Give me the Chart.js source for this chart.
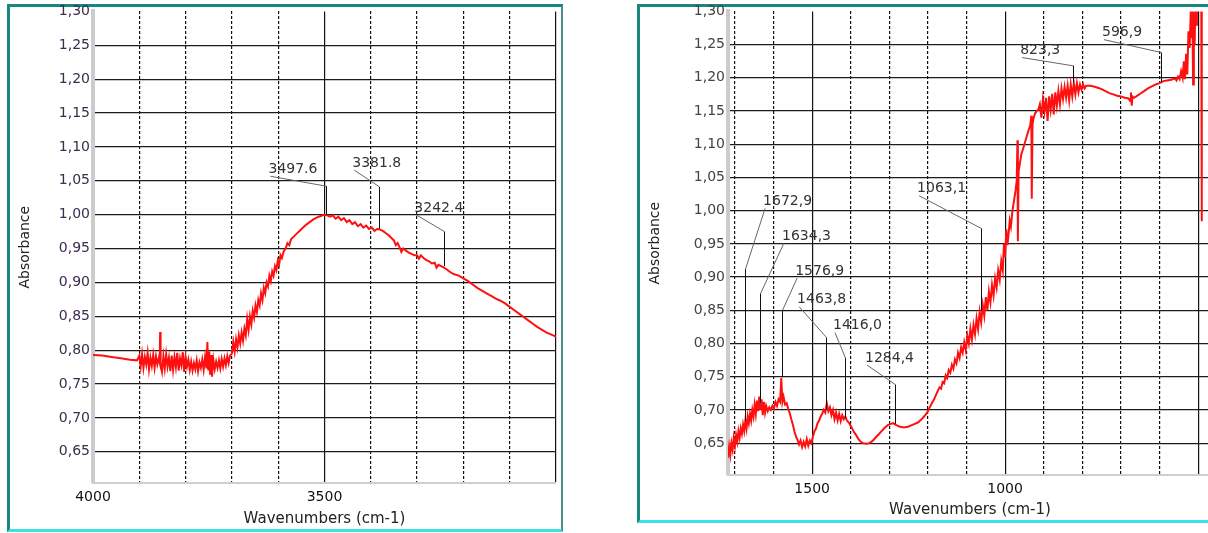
<!DOCTYPE html>
<html>
<head>
<meta charset="utf-8">
<script src="https://cdn.jsdelivr.net/npm/chart.js@4.4.1/dist/chart.umd.min.js"></script>
<style>
  html, body { margin: 0; padding: 0; background: #fff; width: 1208px; height: 533px; overflow: hidden; position: relative; }
  .frame { position: absolute; box-sizing: border-box; }
  #frameL { left: 7px; top: 4px; width: 556px; height: 528px; border-top: 3px solid #17877f; border-left: 3px solid #17877f; border-right: 2px solid #4d8c88; border-bottom: 3px solid #3fe0e8; }
  #frameR { left: 637px; top: 4px; width: 600px; height: 519px; border-top: 3px solid #17877f; border-left: 3px solid #17877f; border-bottom: 3px solid #3fe0e8; }
  canvas { position: absolute; top: 0; }
  #left { left: 10px; }
  #right { left: 641px; }
</style>
</head>
<body>
<div class="frame" id="frameL"></div>
<div class="frame" id="frameR"></div>
<canvas id="left" width="552" height="532"></canvas>
<canvas id="right" width="600" height="523"></canvas>
<script>
Chart.defaults.font.family = "'DejaVu Sans', sans-serif";
Chart.defaults.animation = false;

// ---- left spectrum (4000 - 3000 cm-1) ----
const leftWn = [4000, 3980, 3960, 3940, 3920, 3905,
  3900, 3897, 3894, 3891, 3888, 3885, 3882, 3879, 3876, 3873, 3870, 3867, 3864, 3861, 3858, 3856, 3855, 3854, 3851, 3848,
  3845, 3842, 3839, 3836, 3833, 3830, 3827, 3824, 3821, 3818, 3815, 3812, 3809, 3806, 3803, 3800, 3797, 3794, 3791, 3788,
  3785, 3782, 3779, 3776, 3773, 3770, 3767, 3764, 3761, 3758, 3755, 3753, 3751, 3749, 3747, 3745, 3743, 3740, 3737, 3734,
  3731, 3728, 3725, 3722, 3719, 3716, 3713, 3710, 3707, 3704, 3700,
  3697, 3694, 3691, 3688, 3685, 3682, 3679, 3676, 3673, 3670, 3667, 3664, 3661, 3658, 3655, 3652, 3649, 3646, 3643, 3640,
  3637, 3634, 3631, 3628, 3625, 3622, 3619, 3616, 3613, 3610, 3607, 3604, 3601, 3598, 3595, 3592, 3588, 3584, 3580, 3576,
  3572, 3566, 3560, 3554, 3548, 3540, 3532, 3524, 3516, 3508,
  3500, 3494, 3488, 3482, 3476, 3470, 3464, 3458, 3452, 3446, 3440, 3434, 3428, 3422, 3416, 3410, 3404, 3398, 3392, 3386,
  3380, 3374, 3368, 3362, 3356, 3350, 3346, 3342, 3338, 3334, 3330, 3324, 3318, 3312, 3306, 3300, 3296, 3292, 3286, 3280,
  3274, 3268, 3262, 3258, 3254, 3248, 3242, 3236, 3228, 3220, 3210, 3200, 3190, 3180, 3170, 3160, 3150, 3140, 3130, 3120,
  3110, 3100, 3090, 3080, 3070, 3060, 3050, 3040, 3030, 3020, 3010, 3000];
const leftAbs = [0.793, 0.792, 0.790, 0.788, 0.786, 0.785,
  0.792, 0.776, 0.794, 0.774, 0.790, 0.779, 0.796, 0.772, 0.789, 0.777, 0.793, 0.774, 0.791, 0.779, 0.788, 0.782, 0.827, 0.778, 0.768, 0.791,
  0.773, 0.794, 0.776, 0.789, 0.769, 0.792, 0.771, 0.790, 0.775, 0.796, 0.770, 0.788, 0.778, 0.797, 0.768, 0.790, 0.776, 0.786, 0.771, 0.783,
  0.770, 0.781, 0.772, 0.785, 0.769, 0.782, 0.774, 0.786, 0.771, 0.790, 0.773, 0.812, 0.770, 0.798, 0.764, 0.793, 0.761, 0.786, 0.772, 0.783,
  0.774, 0.785, 0.773, 0.787, 0.776, 0.788, 0.778, 0.791, 0.781, 0.792, 0.795,
  0.812, 0.798, 0.816, 0.804, 0.822, 0.810, 0.826, 0.814, 0.832, 0.822, 0.846, 0.830, 0.850, 0.838, 0.858, 0.848, 0.866, 0.856, 0.874, 0.866,
  0.884, 0.874, 0.892, 0.884, 0.900, 0.894, 0.910, 0.902, 0.916, 0.910, 0.924, 0.918, 0.932, 0.926, 0.940, 0.936, 0.946, 0.950, 0.958, 0.955,
  0.964, 0.968, 0.972, 0.976, 0.980, 0.985, 0.989, 0.993, 0.996, 0.998,
  1.000, 0.999, 0.997, 0.999, 0.994, 0.997, 0.992, 0.995, 0.989, 0.992, 0.986, 0.989, 0.983, 0.986, 0.981, 0.984, 0.979, 0.981, 0.976, 0.979,
  0.978, 0.976, 0.973, 0.970, 0.966, 0.962, 0.955, 0.958, 0.952, 0.945, 0.950, 0.947, 0.944, 0.942, 0.940, 0.940, 0.935, 0.940, 0.936, 0.933,
  0.931, 0.928, 0.929, 0.922, 0.926, 0.924, 0.922, 0.919, 0.915, 0.912, 0.910, 0.906, 0.902, 0.897, 0.892, 0.888, 0.884, 0.880, 0.876, 0.873,
  0.869, 0.864, 0.859, 0.854, 0.849, 0.844, 0.839, 0.834, 0.830, 0.826, 0.823, 0.820];

// ---- right spectrum (1718 - 464 cm-1) ----
const rightWn = [1718, 1715, 1712, 1709, 1706, 1703, 1700, 1697, 1694, 1691, 1688, 1685, 1682, 1679, 1676, 1673, 1670, 1667, 1664, 1661,
  1658, 1655, 1652, 1649, 1646, 1643, 1640, 1637, 1634, 1631, 1628, 1625, 1622, 1619, 1615, 1611, 1607, 1603, 1599, 1595,
  1591, 1587, 1583, 1580, 1577, 1574, 1570, 1566, 1562, 1558, 1554, 1550, 1546, 1542, 1538, 1534, 1530, 1526, 1522, 1518,
  1514, 1510, 1506, 1502, 1498, 1494, 1490, 1486, 1482, 1478, 1474, 1470, 1466, 1462, 1458, 1454, 1450, 1446, 1442, 1438,
  1434, 1430, 1426, 1422, 1418, 1414, 1410, 1404, 1398, 1392, 1386, 1380, 1374, 1368, 1360, 1352, 1344, 1336, 1328, 1320,
  1312, 1304, 1296, 1290, 1282, 1274, 1266, 1258, 1250, 1242, 1234, 1226, 1218, 1210, 1202, 1196, 1190, 1184, 1178,
  1175, 1170, 1166, 1162, 1158, 1154, 1150, 1146, 1142, 1138, 1134, 1130, 1126, 1122, 1118, 1114, 1110, 1106, 1102, 1098,
  1094, 1090, 1086, 1082, 1078, 1074, 1070, 1066, 1062, 1058, 1054, 1050, 1046, 1042, 1038, 1034, 1030, 1026, 1022, 1018,
  1014, 1010, 1006, 1003, 1000, 997, 994, 991, 988, 985, 981, 977, 973, 970, 968, 967, 965, 962, 958, 954,
  950, 946, 943, 940, 935, 932, 931, 929, 926, 922, 918, 914,
  910, 906, 902, 898, 894, 890, 886, 882, 878, 874, 870, 866, 862, 858, 854, 850, 846, 842, 838, 834,
  830, 826, 822, 818, 814, 810, 806, 802, 798, 794, 790, 780, 770, 760, 750, 740, 730, 720, 710, 700,
  690, 680, 676, 674, 672, 670, 666, 660, 650, 640, 630, 620, 610, 600, 590, 580, 570, 560, 556, 552,
  548, 544, 540, 537, 534, 531, 528, 525, 522, 519, 517, 515, 513, 511, 509, 507, 505, 503, 500, 496,
  492, 491, 490, 488];
const rightAbs = [0.628, 0.645, 0.632, 0.650, 0.640, 0.658, 0.646, 0.662, 0.652, 0.668, 0.658, 0.672, 0.664, 0.678, 0.668, 0.684, 0.672, 0.690, 0.680, 0.694,
  0.684, 0.700, 0.690, 0.708, 0.694, 0.714, 0.698, 0.720, 0.700, 0.716, 0.692, 0.712, 0.696, 0.706, 0.698, 0.704, 0.700, 0.706, 0.702, 0.712,
  0.706, 0.716, 0.712, 0.748, 0.712, 0.720, 0.708, 0.710, 0.702, 0.695, 0.686, 0.678, 0.668, 0.660, 0.655, 0.648, 0.654, 0.644, 0.652, 0.645,
  0.656, 0.646, 0.654, 0.650, 0.660, 0.668, 0.672, 0.680, 0.684, 0.690, 0.694, 0.700, 0.696, 0.710, 0.698, 0.704, 0.692, 0.700, 0.686, 0.696,
  0.684, 0.694, 0.683, 0.692, 0.686, 0.690, 0.684, 0.680, 0.674, 0.667, 0.662, 0.656, 0.652, 0.650, 0.649, 0.650, 0.653, 0.658, 0.663, 0.668,
  0.673, 0.677, 0.679, 0.680, 0.677, 0.675, 0.674, 0.674, 0.675, 0.677, 0.679, 0.681, 0.685, 0.690, 0.696, 0.703, 0.710, 0.716, 0.724,
  0.728, 0.734, 0.732, 0.742, 0.740, 0.752, 0.748, 0.760, 0.756, 0.768, 0.762, 0.776, 0.770, 0.786, 0.778, 0.794, 0.786, 0.802, 0.790, 0.812,
  0.800, 0.822, 0.806, 0.828, 0.814, 0.838, 0.822, 0.848, 0.832, 0.858, 0.842, 0.870, 0.850, 0.878, 0.862, 0.888, 0.872, 0.898, 0.884, 0.910,
  0.896, 0.924, 0.910, 0.950, 0.930, 0.972, 0.948, 0.965, 0.985, 0.976, 1.000, 1.015, 1.030, 1.045, 1.106, 0.954, 1.060, 1.070, 1.085, 1.092,
  1.100, 1.108, 1.114, 1.120, 1.128, 1.143, 1.018, 1.130, 1.140, 1.147, 1.150, 1.152,
  1.160, 1.140, 1.168, 1.150, 1.170, 1.135, 1.172, 1.152, 1.176, 1.145, 1.178, 1.158, 1.180, 1.160, 1.184, 1.168, 1.186, 1.170, 1.188, 1.166,
  1.190, 1.172, 1.192, 1.175, 1.192, 1.178, 1.190, 1.182, 1.190, 1.184, 1.188, 1.188, 1.187, 1.185, 1.183, 1.180, 1.177, 1.175, 1.173, 1.172,
  1.170, 1.169, 1.165, 1.178, 1.158, 1.172, 1.170, 1.172, 1.176, 1.180, 1.184, 1.187, 1.190, 1.192, 1.195, 1.196, 1.197, 1.199, 1.196, 1.202,
  1.198, 1.210, 1.200, 1.225, 1.198, 1.236, 1.205, 1.270, 1.245, 1.300, 1.260, 1.310, 1.190, 1.300, 1.250, 1.310, 1.280, 1.300, 1.310, 1.330,
  1.350, 0.984, 1.350, 1.350];

// ---- axis ticks ----
const yTicks = [0.65, 0.70, 0.75, 0.80, 0.85, 0.90, 0.95, 1.00, 1.05, 1.10, 1.15, 1.20, 1.25, 1.30];
const leftMajorTicks = [4000, 3500, 3000];
const leftMinorTicks = [3900, 3800, 3700, 3600, 3400, 3300, 3200, 3100];
const leftTickLabels = [4000, 3500];
const rightMajorTicks = [1500, 1000, 500];
const rightMinorTicks = [1700, 1600, 1400, 1300, 1200, 1100, 900, 800, 700, 600];
const rightTickLabels = [1500, 1000];

// ---- peak labels ----
const leftPeakWn = [3497.6, 3381.8, 3242.4];
const leftPeakText = ['3497.6', '3381.8', '3242.4'];
const leftLabelWn = [3621, 3440, 3306];
const leftLabelAbs = [1.067, 1.076, 1.010];
const leftBendAbs = [1.042, 1.041, 0.975];
const leftEndAbs = [1.000, 0.979, 0.924];

const rightPeakWn = [1672.9, 1634.3, 1576.9, 1463.8, 1416.0, 1284.4, 1063.1, 823.3, 596.9];
const rightPeakText = ['1672,9', '1634,3', '1576,9', '1463,8', '1416,0', '1284,4', '1063,1', '823,3', '596,9'];
const rightLabelWn = [1627, 1578, 1544, 1539, 1446, 1363, 1228, 961, 749];
const rightLabelAbs = [1.014, 0.962, 0.909, 0.866, 0.827, 0.778, 1.033, 1.241, 1.268];
const rightBendAbs = [0.912, 0.875, 0.850, 0.809, 0.778, 0.738, 0.973, 1.218, 1.238];
const rightEndAbs = [0.683, 0.711, 0.749, 0.700, 0.688, 0.679, 0.849, 1.193, 1.193];

// draws the peak labels with their leader lines
const peakLabels = {
  id: 'peakLabels',
  afterDatasetsDraw(chart, args, opts) {
    const {ctx, scales: {x, y}} = chart;
    ctx.save();
    ctx.font = "14px 'DejaVu Sans'";
    ctx.textBaseline = 'middle';
    ctx.lineWidth = 1;
    opts.wn.forEach((wn, i) => {
      const px = Math.round(x.getPixelForValue(wn)) + 0.5;
      const lx = x.getPixelForValue(opts.labelWn[i]);
      const ly = y.getPixelForValue(opts.labelAbs[i]);
      const yb = y.getPixelForValue(opts.bendAbs[i]);
      const ye = y.getPixelForValue(opts.endAbs[i]);
      ctx.strokeStyle = '#666';
      ctx.beginPath();
      ctx.moveTo(lx + 2, ly + 7);
      ctx.lineTo(px, yb);
      ctx.stroke();
      ctx.strokeStyle = '#111';
      ctx.beginPath();
      ctx.moveTo(px, yb);
      ctx.lineTo(px, ye);
      ctx.stroke();
      ctx.fillStyle = '#333';
      ctx.fillText(opts.text[i], lx, ly);
    });
    ctx.restore();
  }
};

function makeSpectrum(id, p) {
  const points = p.wn.map((w, i) => ({x: w, y: p.abs[i]}));
  return new Chart(document.getElementById(id), {
    type: 'line',
    data: {
      datasets: [{
        data: points,
        borderColor: '#ff1010',
        borderWidth: 2,
        pointRadius: 0,
        tension: 0
      }]
    },
    plugins: [peakLabels],
    options: {
      responsive: false,
      layout: {padding: {left: 0, right: p.padRight, top: 8, bottom: 0}},
      plugins: {
        legend: {display: false},
        tooltip: {enabled: false},
        peakLabels: p.peaks
      },
      scales: {
        x: {
          type: 'linear',
          position: 'bottom',
          min: p.xMin, max: p.xMax,
          reverse: true,
          afterBuildTicks: s => { s.ticks = p.major.map(v => ({value: v})); },
          afterFit: s => { s.height = p.xHeight; },
          ticks: {
            padding: 6,
            color: '#111',
            font: {size: 14},
            maxRotation: 0,
            autoSkip: false,
            callback: v => p.tickLabels.includes(v) ? String(v) : ''
          },
          grid: {color: '#111', lineWidth: 1.2, drawTicks: false},
          border: {color: '#cfcfcf', width: 2},
          title: {display: true, text: 'Wavenumbers (cm-1)', color: '#222', font: {size: 15}, padding: {top: 0, bottom: 4}}
        },
        xMinor: {
          type: 'linear',
          axis: 'x',
          position: 'top',
          min: p.xMin, max: p.xMax,
          reverse: true,
          afterBuildTicks: s => { s.ticks = p.minor.map(v => ({value: v})); },
          afterFit: s => { s.height = 0; },
          ticks: {display: false},
          grid: {color: '#111', lineWidth: 1.2, drawTicks: false},
          border: {display: false, dash: [3, 2]}
        },
        y: {
          type: 'linear',
          min: p.yMin, max: 1.30,
          afterBuildTicks: s => { s.ticks = yTicks.map(v => ({value: v})); },
          afterFit: s => { s.width = p.yWidth; },
          ticks: {
            padding: 3,
            color: p.yTickColor,
            font: {size: 14},
            callback: v => v.toFixed(2).replace('.', ',')
          },
          grid: {color: c => c.tick && c.tick.value >= 1.3 ? 'rgba(0,0,0,0)' : '#1c1c1c', lineWidth: 1.2, drawTicks: false},
          border: {color: '#cccccc', width: 4},
          title: {display: true, text: 'Absorbance', color: '#222', font: {size: 14}, padding: {top: p.yTitlePad, bottom: 0}}
        }
      }
    }
  });
}

makeSpectrum('left', {
  wn: leftWn, abs: leftAbs,
  xMin: 3000, xMax: 4000, yMin: 0.604,
  major: leftMajorTicks, minor: leftMinorTicks, tickLabels: leftTickLabels,
  padRight: 5, xHeight: 49, yWidth: 83, yTitlePad: 7, yTickColor: '#3b2d4d',
  peaks: {wn: leftPeakWn, text: leftPeakText, labelWn: leftLabelWn, labelAbs: leftLabelAbs, bendAbs: leftBendAbs, endAbs: leftEndAbs}
});

makeSpectrum('right', {
  wn: rightWn, abs: rightAbs,
  xMin: 464, xMax: 1718, yMin: 0.602,
  major: rightMajorTicks, minor: rightMinorTicks, tickLabels: rightTickLabels,
  padRight: 29, xHeight: 48, yWidth: 87, yTitlePad: 6, yTickColor: '#444',
  peaks: {wn: rightPeakWn, text: rightPeakText, labelWn: rightLabelWn, labelAbs: rightLabelAbs, bendAbs: rightBendAbs, endAbs: rightEndAbs}
});
</script>
</body>
</html>
